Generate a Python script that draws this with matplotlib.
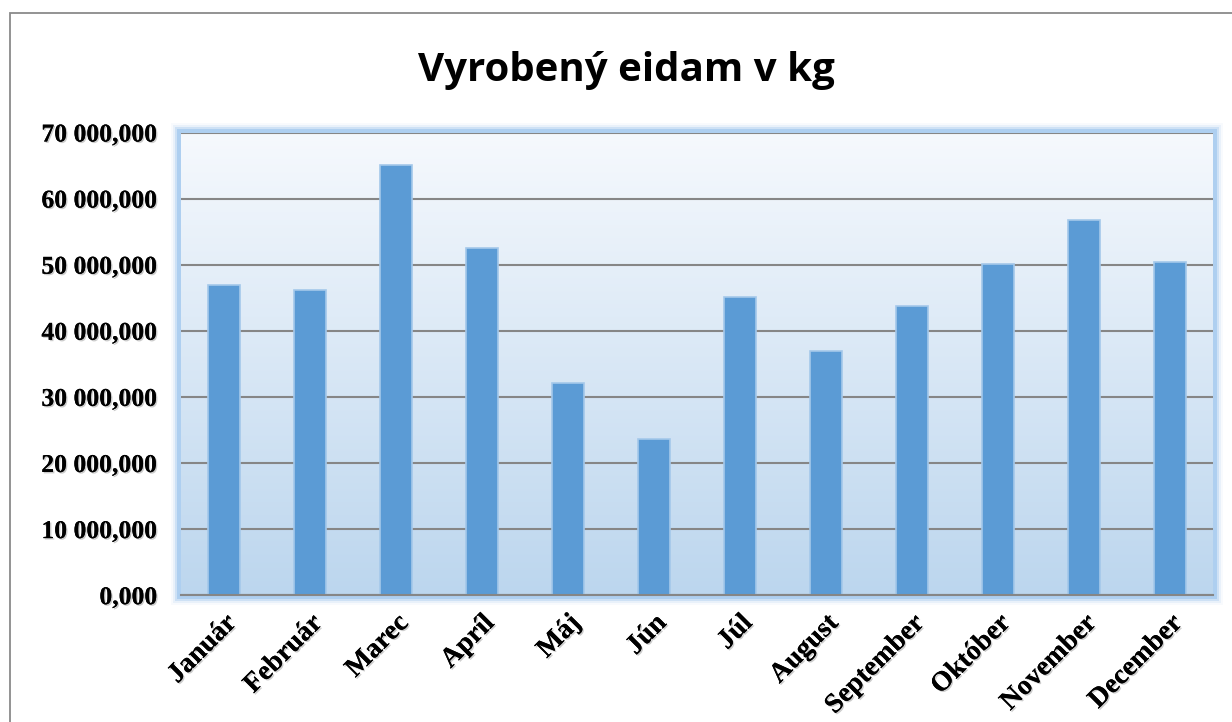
import numpy as np
import matplotlib
matplotlib.use("Agg")
import matplotlib.pyplot as plt
from matplotlib.colors import LinearSegmentedColormap
from matplotlib.patches import Rectangle
from matplotlib.ticker import FuncFormatter, MultipleLocator
import matplotlib.patheffects as pe

# data (kg)
mesiace = ["Január", "Február", "Marec", "Apríl", "Máj", "Jún", "Júl",
           "August", "September", "Október", "November", "December"]
vyroba_kg = [46970, 46170, 65130, 52530, 32150, 23680,
             45070, 36990, 43800, 50100, 56760, 50450]
nazov = "Vyrobený eidam v kg"

def format_sk(v, pos):
    # 70 000,000 style
    s = f"{v:,.3f}"
    return s.replace(",", " ").replace(".", ",")

fig = plt.figure(figsize=(12.32, 7.22), dpi=100)
W, H = 1232, 722
left, right, top, bottom = 181, 1213, 132.5, 595.2
ax = fig.add_axes([left / W, 1 - bottom / H, (right - left) / W, (bottom - top) / H])

# outer chart border
fig.patches.append(Rectangle((10 / W, -0.1), 1.2, 1 - 13 / H + 0.1,
                             transform=fig.transFigure, fill=False,
                             edgecolor="#8a8a8a", linewidth=1.3))

# gradient fill of plot area (light on top, blue at bottom)
cmap = LinearSegmentedColormap.from_list("grad", ["#f6f9fd", "#bcd6ee"])
grad = np.linspace(0, 1, 256).reshape(-1, 1)
ax.imshow(grad, aspect="auto", cmap=cmap, extent=[0, 1, 0, 1], origin="upper",
          transform=ax.transAxes, zorder=0)

# soft glow around plot area
for w, a in [(10, 0.08), (8, 0.18), (6, 0.4), (4, 0.8)]:
    dx = w / (right - left)
    dy = w / (bottom - top)
    ax.add_patch(Rectangle((-dx / 2, -dy / 2), 1 + dx, 1 + dy,
                           transform=ax.transAxes, fill=False,
                           edgecolor="#a7cbef", alpha=a,
                           linewidth=w * 0.72, clip_on=False, zorder=1))

x = np.arange(len(mesiace))
ax.bar(x, vyroba_kg, width=0.38, color="#5b9bd5", edgecolor="#a4c8ea",
       linewidth=1.2, zorder=3)

ax.set_xlim(-0.5, len(mesiace) - 0.5)
ax.set_ylim(0, 70000)
ax.yaxis.set_major_locator(MultipleLocator(10000))
ax.yaxis.set_major_formatter(FuncFormatter(format_sk))
ax.grid(axis="y", color="#868686", linewidth=1.5, zorder=2)
ax.set_axisbelow(False)

for s in ["left", "right", "top"]:
    ax.spines[s].set_visible(False)
ax.spines["bottom"].set_color("#868686")
ax.spines["bottom"].set_linewidth(1.5)
ax.spines["bottom"].set_zorder(4)

ax.tick_params(axis="both", length=0)
ax.tick_params(axis="y", pad=17, labelsize=18.5)
ax.tick_params(axis="x", pad=11, labelsize=20)
ax.set_xticks(x)
ax.set_xticklabels(mesiace, rotation=45, ha="right", rotation_mode="anchor")

shadow = [pe.withSimplePatchShadow(offset=(1, -1), shadow_rgbFace="#999999", alpha=0.5), pe.Normal()]
for lab in ax.get_xticklabels() + ax.get_yticklabels():
    lab.set_fontfamily("Liberation Serif")
    lab.set_fontweight("bold")
    lab.set_path_effects(shadow)

fig.text(626 / W, 1 - 71 / H, nazov, ha="center", va="center",
         fontsize=29, fontweight="bold", family="Open Sans")

fig.savefig("out.png", dpi=100)
